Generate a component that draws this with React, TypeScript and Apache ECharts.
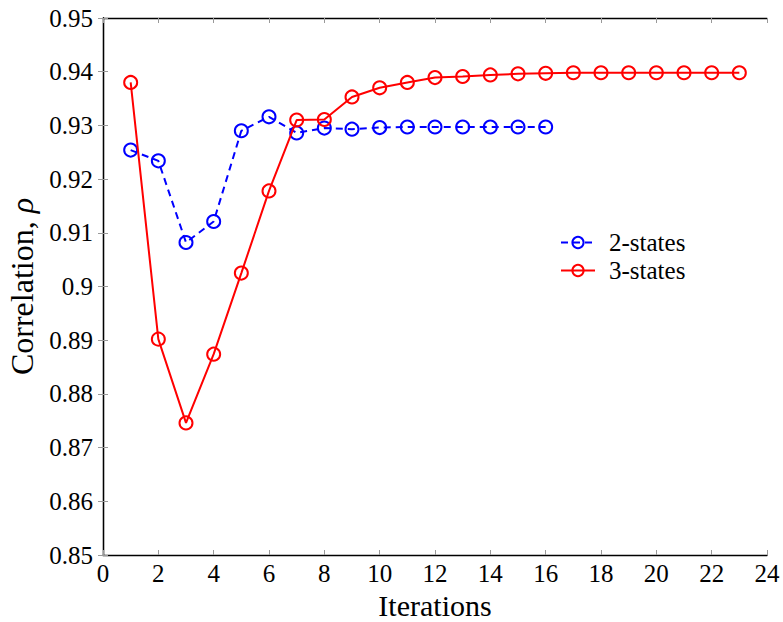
import React, { useEffect, useRef } from "react";
import * as echarts from "echarts";

// Iteration indices for each run
const iterations2 = [1, 2, 3, 4, 5, 6, 7, 8, 9, 10, 11, 12, 13, 14, 15, 16];
const iterations3 = [1, 2, 3, 4, 5, 6, 7, 8, 9, 10, 11, 12, 13, 14, 15, 16, 17, 18, 19, 20, 21, 22, 23];

// Correlation per iteration
const states2 = [
  0.9254, 0.9234, 0.9082, 0.9121, 0.929, 0.9316, 0.9286, 0.9295, 0.9293, 0.9296,
  0.9297, 0.9297, 0.9297, 0.9297, 0.9297, 0.9297,
];
const states3 = [
  0.938, 0.8902, 0.8746, 0.8874, 0.9025, 0.9178, 0.931, 0.9311, 0.9353, 0.937,
  0.938, 0.9389, 0.9391, 0.9394, 0.9396, 0.9397, 0.9398, 0.9398, 0.9398, 0.9398,
  0.9398, 0.9398, 0.9398,
];

const seriesNames = ["2-states", "3-states"];

const FONT = "Liberation Serif";

export default function App() {
  const ref = useRef<HTMLDivElement>(null);

  useEffect(() => {
    if (!ref.current) return;
    const chart = echarts.init(ref.current, null, { renderer: "svg" });

    const tickStyle = () => ({ show: true, inside: true, length: 5, lineStyle: { color: "#999", width: 1 } });
    const frameLine = () => ({ show: true, lineStyle: { color: "#000", width: 1.3 } });
    const labelStyle = {
      show: true,
      fontFamily: FONT,
      fontSize: 25,
      color: "#000",
    };

    chart.setOption({
      animation: false,
      backgroundColor: "#fff",
      grid: {
        left: 103,
        top: 18,
        width: 664,
        height: 537,
        containLabel: false,
        outerBoundsMode: "none",
      },
      legend: {
        data: seriesNames,
        orient: "vertical",
        left: 555,
        top: 225,
        itemWidth: 34,
        itemHeight: 14,
        itemGap: 3,
        textStyle: { fontFamily: FONT, fontSize: 25, color: "#000", padding: [0, 0, 0, 9] },
      },
      xAxis: [
        {
          type: "value",
          min: 0,
          max: 24,
          interval: 2,
          position: "bottom",
          name: "Iterations",
          nameLocation: "middle",
          nameGap: 35,
          nameTextStyle: { fontFamily: FONT, fontSize: 30, color: "#000" },
          axisLine: frameLine(),
          axisTick: tickStyle(),
          splitLine: { show: false },
          axisLabel: { ...labelStyle, margin: 6 },
        },
        {
          type: "value",
          min: 0,
          max: 24,
          interval: 2,
          position: "top",
          axisLine: frameLine(),
          axisTick: tickStyle(),
          splitLine: { show: false },
          axisLabel: { show: false },
        },
      ],
      yAxis: [
        {
          type: "value",
          min: 0.85,
          max: 0.95,
          interval: 0.01,
          position: "left",
          name: "Correlation, {i|ρ}",
          nameLocation: "middle",
          nameRotate: 90,
          nameGap: 65,
          nameTextStyle: {
            fontFamily: FONT,
            fontSize: 32,
            color: "#000",
            rich: { i: { fontFamily: FONT, fontSize: 32, fontStyle: "italic", color: "#000" } },
          },
          axisLine: frameLine(),
          axisTick: tickStyle(),
          splitLine: { show: false },
          axisLabel: {
            ...labelStyle,
            margin: 10,
            formatter: (v: number) => String(Number(v.toFixed(2))),
          },
        },
        {
          type: "value",
          min: 0.85,
          max: 0.95,
          interval: 0.01,
          position: "right",
          axisLine: frameLine(),
          axisTick: tickStyle(),
          splitLine: { show: false },
          axisLabel: { show: false },
        },
      ],
      series: [
        {
          name: seriesNames[0],
          type: "line",
          data: iterations2.map((x, i) => [x, states2[i]]),
          symbol: "circle",
          symbolSize: 13,
          lineStyle: { color: "#0000ff", width: 2, type: [7, 5] },
          itemStyle: { color: "rgba(255,255,255,0)", borderColor: "#0000ff", borderWidth: 2 },
          z: 2,
        },
        {
          name: seriesNames[1],
          type: "line",
          data: iterations3.map((x, i) => [x, states3[i]]),
          symbol: "circle",
          symbolSize: 13,
          lineStyle: { color: "#ff0000", width: 2 },
          itemStyle: { color: "rgba(255,255,255,0)", borderColor: "#ff0000", borderWidth: 2 },
          z: 3,
        },
      ],
    });

    return () => chart.dispose();
  }, []);

  return <div ref={ref} style={{ width: 783, height: 622, position: "absolute", left: 0, top: 0 }} />;
}
